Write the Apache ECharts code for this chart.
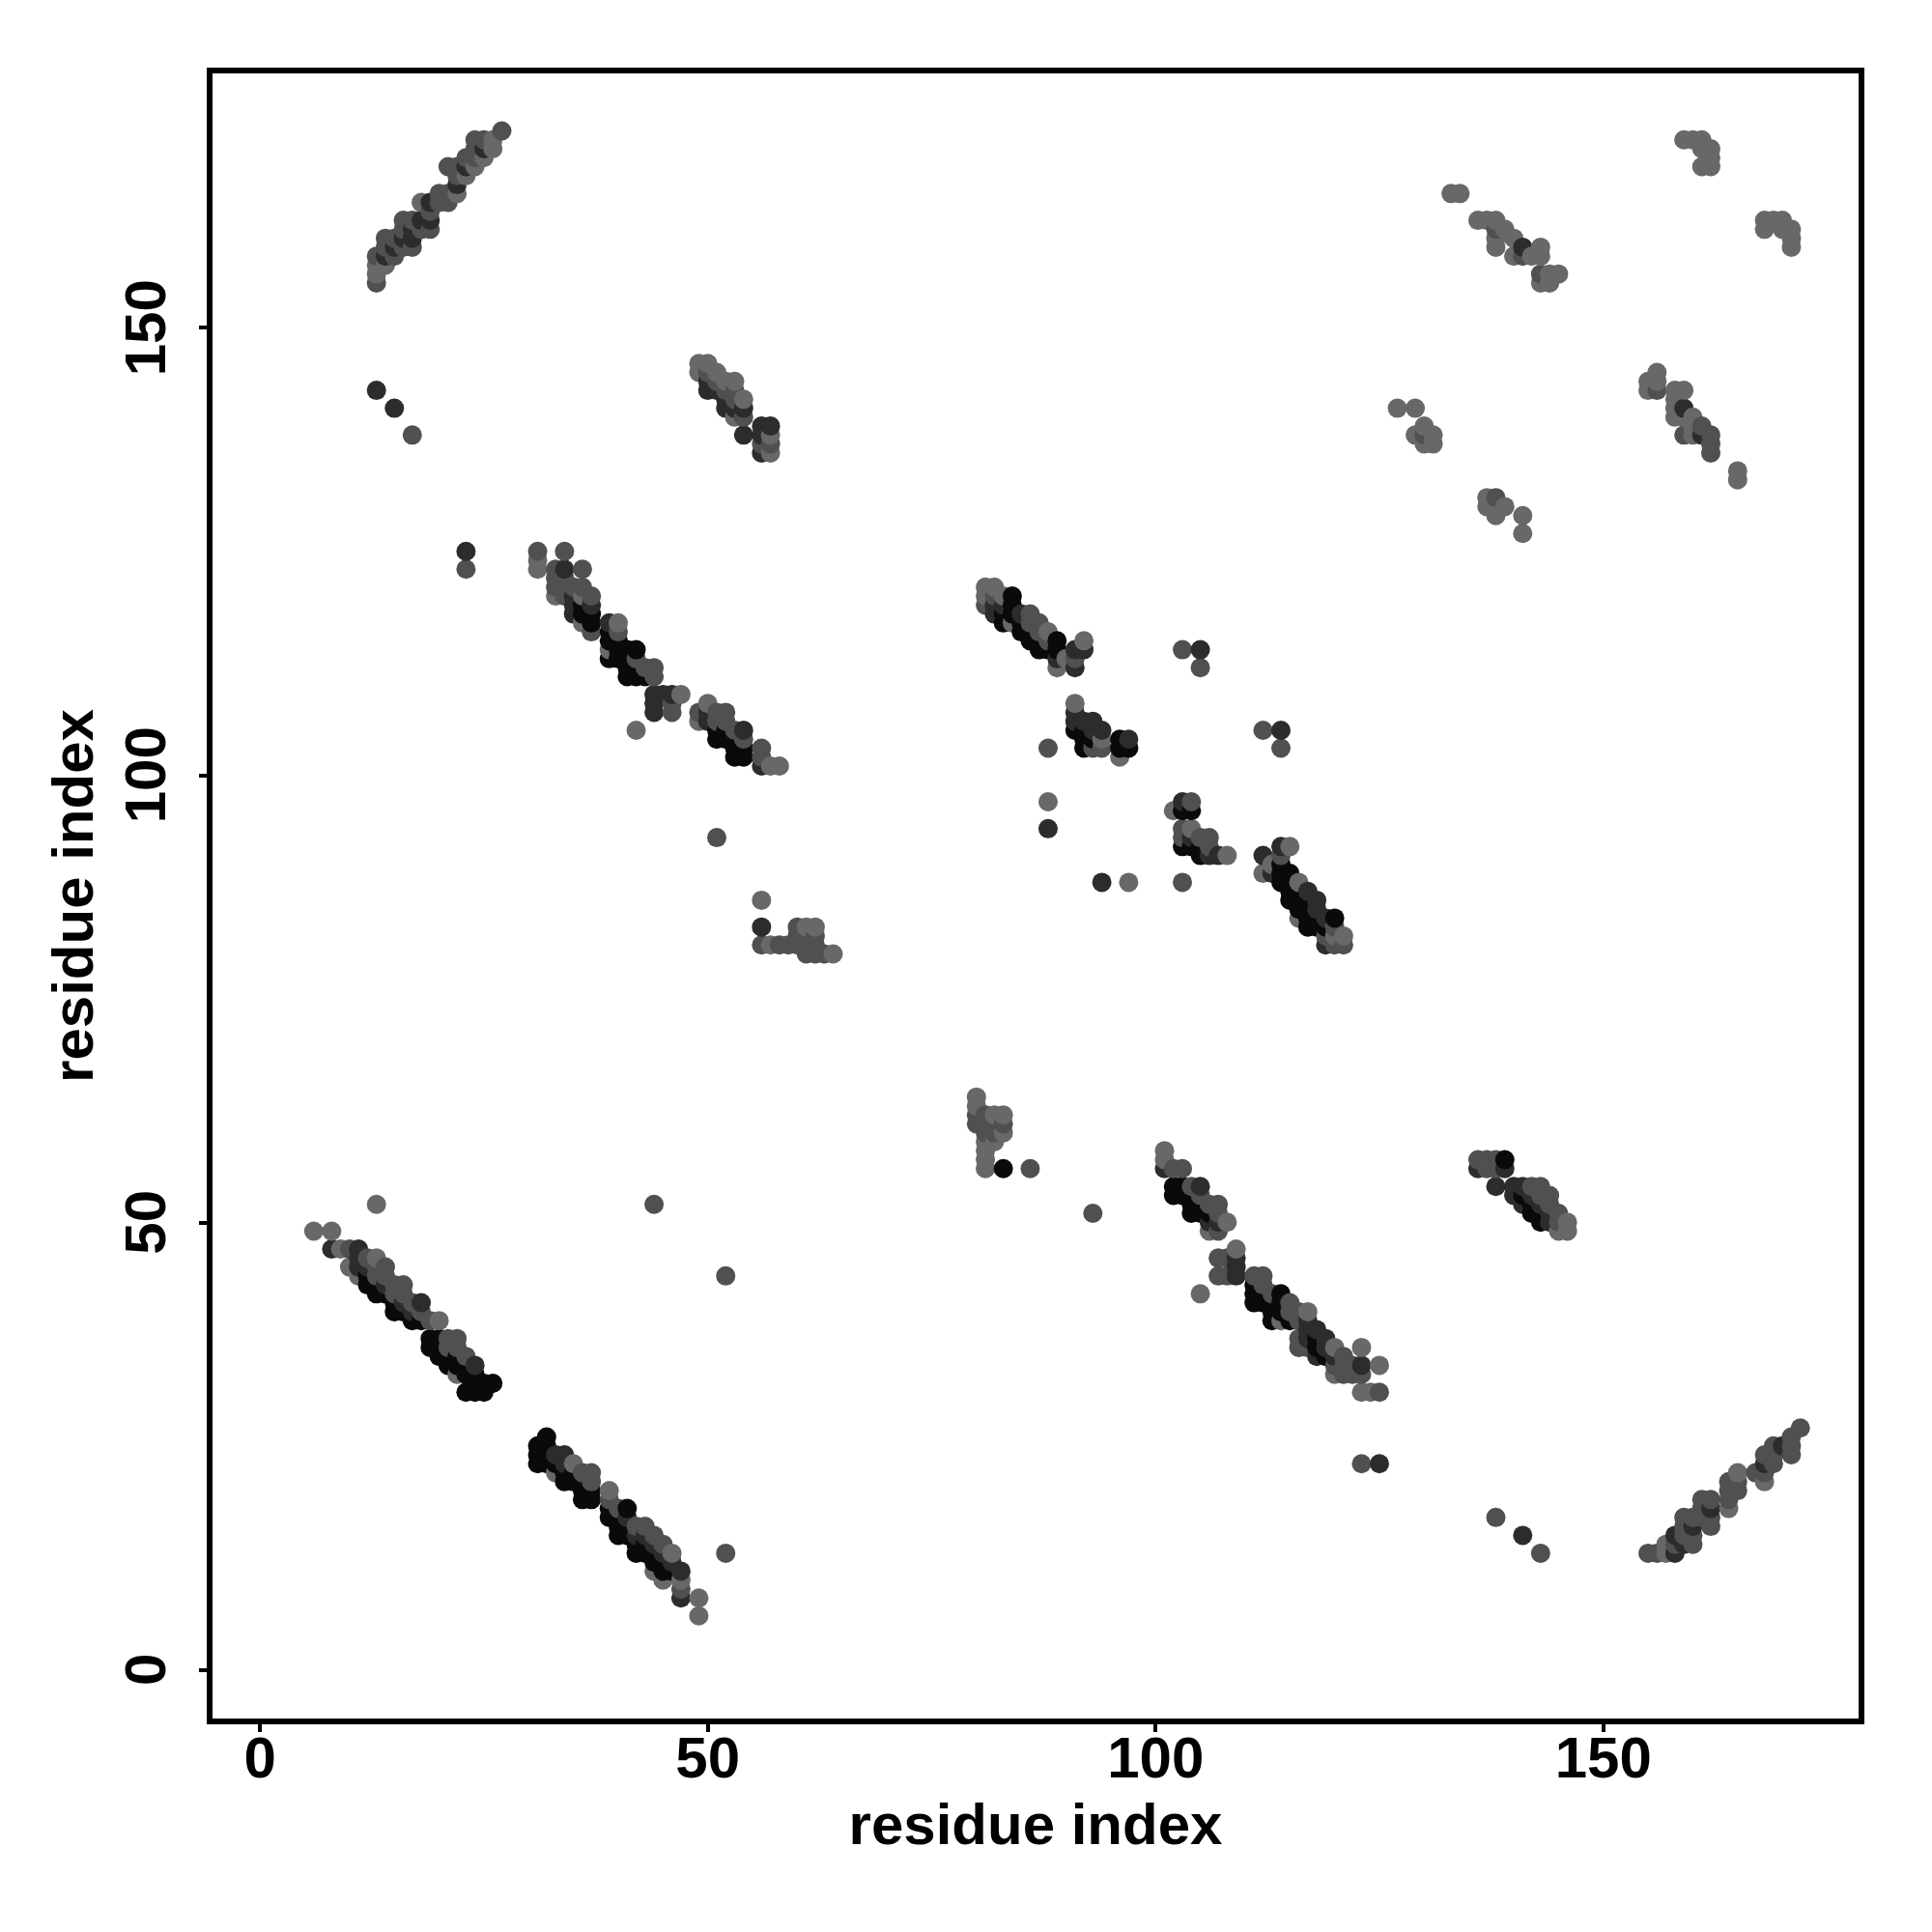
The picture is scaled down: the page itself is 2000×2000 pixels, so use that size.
<!DOCTYPE html>
<html><head><meta charset="utf-8">
<style>html,body{margin:0;padding:0;background:#fff}#c{width:2000px;height:2000px}</style>
<script src="https://cdn.jsdelivr.net/npm/echarts@6/dist/echarts.min.js"></script>
</head><body><div id="c"></div>
<script>
// Contacts: [residue x, residue y, darkness level 1..4]
const helixLowerLeft = [[6,49,1],[8,49,1],[8,47,3],[9,47,1],[10,47,2],[10,45,1],[11,47,3],[11,46,3],[11,45,3],[11,44,1],[12,46,2],[12,45,3],[12,44,4],[12,43,4],[13,46,1],[13,45,2],[13,44,2],[13,43,4],[13,42,4],[14,45,2],[14,44,2],[14,43,3],[14,42,4],[15,43,2],[15,42,2],[15,41,4],[15,40,4],[16,43,2],[16,42,2],[16,41,3],[16,40,4],[17,41,2],[17,40,3],[17,39,4],[18,41,3],[18,40,2],[18,39,4],[19,39,2],[19,37,4],[19,36,4],[20,39,1],[20,37,4],[20,36,4],[20,35,4],[21,37,2],[21,36,2],[21,35,4],[21,34,4],[22,37,2],[22,36,2],[22,35,4],[22,34,4],[22,33,1],[23,35,2],[23,34,4],[23,33,4],[23,31,4],[24,34,3],[24,33,4],[24,32,4],[24,31,4],[25,32,4],[25,31,4],[26,32,4],[13,52,1],[44,52,2],[52,44,2]];
const helixLowerMid = [[31,25,4],[31,24,4],[31,23,4],[32,26,4],[32,25,4],[32,24,4],[32,23,4],[33,24,3],[33,23,4],[33,22,1],[34,24,3],[34,23,3],[34,22,4],[34,21,4],[35,23,1],[35,22,4],[35,21,4],[36,22,2],[36,21,4],[36,20,4],[36,19,4],[37,22,2],[37,21,2],[37,20,4],[37,19,4],[39,20,1],[39,19,2],[39,18,4],[39,17,4],[40,18,2],[40,17,4],[40,16,4],[40,15,4],[41,18,4],[41,17,3],[41,16,4],[41,15,4],[42,16,2],[42,15,3],[42,14,4],[42,13,4],[43,16,2],[43,15,3],[43,14,4],[43,13,4],[44,15,2],[44,14,3],[44,13,4],[44,12,4],[44,11,1],[45,14,2],[45,13,3],[45,12,4],[45,11,4],[45,10,1],[46,13,1],[46,12,3],[46,11,4],[47,11,3],[47,10,1],[47,9,2],[47,8,3],[49,8,1],[49,6,1],[52,13,2]];
const strandTopLeft = [[13,158,2],[13,157,1],[13,156,1],[13,155,2],[14,160,2],[14,159,2],[14,158,3],[14,157,1],[15,160,2],[15,159,3],[15,158,2],[16,162,2],[16,161,2],[16,160,3],[16,159,2],[17,162,2],[17,161,3],[17,160,3],[17,159,2],[18,164,1],[18,162,3],[18,161,2],[19,164,3],[19,163,2],[19,162,3],[19,161,2],[20,165,2],[20,164,2],[21,168,2],[21,165,2],[21,164,2],[22,168,2],[22,167,2],[22,166,3],[22,165,1],[23,169,2],[23,168,3],[23,167,1],[24,171,2],[24,170,2],[24,169,2],[24,168,1],[25,171,2],[25,170,3],[25,169,1],[26,171,1],[26,170,1],[27,172,2],[13,143,3],[15,141,3],[17,138,2],[23,125,3],[23,123,2]];
const helixUpperLeft = [[31,125,2],[31,124,1],[31,123,1],[33,123,2],[33,122,2],[33,121,2],[33,120,1],[34,125,2],[34,123,3],[34,122,2],[34,121,2],[34,120,2],[35,121,2],[35,120,3],[35,119,3],[35,118,3],[36,123,2],[36,121,2],[36,120,1],[36,119,4],[36,118,4],[36,117,1],[37,120,2],[37,119,3],[37,118,4],[37,117,4],[37,116,2],[39,117,3],[39,116,4],[39,115,4],[39,114,1],[39,113,4],[40,117,1],[40,116,2],[40,115,4],[40,114,4],[40,113,4],[41,114,4],[41,113,4],[41,112,4],[41,111,4],[42,114,4],[42,113,2],[42,112,4],[42,111,4],[43,112,2],[43,111,4],[44,112,2],[44,111,2],[44,109,3],[44,108,3],[44,107,3],[45,109,3],[46,109,3],[46,108,2],[46,107,2],[47,109,1],[42,105,1],[49,107,2],[49,106,1],[50,108,1],[50,107,3],[50,106,3],[51,107,2],[51,106,2],[51,105,4],[51,104,4],[52,107,2],[52,106,2],[52,105,4],[52,104,4],[53,105,2],[53,104,4],[53,103,4],[53,102,4],[54,105,3],[54,104,2],[54,103,4],[54,102,4],[56,103,2],[56,102,2],[56,101,3],[57,101,1],[58,101,1],[51,93,2]];
const clusterCentreLeft = [[56,86,1],[56,83,3],[56,81,2],[57,81,1],[58,81,2],[59,81,2],[60,83,2],[60,82,2],[60,81,2],[61,83,1],[61,82,2],[61,81,2],[61,80,2],[62,83,1],[62,82,2],[62,81,2],[62,80,2],[63,80,2],[64,80,1]];
const strandUpperCentre = [[49,146,1],[49,145,1],[50,146,1],[50,145,2],[50,144,3],[50,143,3],[51,145,1],[51,144,2],[51,143,3],[52,144,1],[52,143,2],[52,142,3],[52,141,3],[53,144,1],[53,143,2],[53,142,2],[53,141,3],[53,140,1],[54,142,1],[54,141,3],[54,140,2],[54,138,3],[56,139,3],[56,138,3],[56,137,2],[56,136,3],[57,139,3],[57,138,1],[57,137,2],[57,136,1]];
const helixCentre = [[81,121,1],[81,120,1],[81,119,2],[82,121,1],[82,120,2],[82,119,3],[82,118,3],[83,120,1],[83,119,3],[83,118,4],[83,117,4],[84,120,4],[84,119,4],[84,118,4],[84,117,1],[85,118,3],[85,117,4],[85,116,4],[86,118,2],[86,117,2],[86,116,4],[86,115,4],[87,117,2],[87,116,2],[87,115,4],[87,114,4],[88,116,1],[88,115,2],[88,114,4],[89,115,4],[89,114,4],[89,113,3],[89,112,1],[90,113,1],[91,114,3],[91,113,2],[91,112,3],[92,115,1],[92,114,3],[91,108,1],[91,107,3],[91,106,3],[91,105,4],[92,106,3],[92,105,4],[92,104,4],[92,103,4],[93,106,3],[93,105,3],[93,104,4],[93,103,2],[94,105,3],[94,104,1],[94,103,2],[96,104,4],[96,103,4],[96,102,1],[97,104,3],[97,103,4],[88,103,2],[88,97,1],[88,94,3],[94,88,3],[97,88,1],[103,88,2],[103,114,2],[105,114,3],[105,112,2],[112,105,2],[114,105,3],[114,103,2]];
const helixCentreRight = [[102,96,1],[103,97,3],[103,96,4],[103,94,2],[103,93,2],[103,92,4],[104,97,2],[104,96,4],[104,94,1],[104,93,3],[104,92,4],[105,93,2],[105,92,4],[105,91,4],[106,93,2],[106,92,2],[106,91,3],[107,91,3],[108,91,1],[112,91,3],[112,89,1],[113,90,1],[113,89,3],[114,92,3],[114,91,2],[114,90,4],[114,89,4],[114,88,4],[115,92,1],[115,89,4],[115,88,4],[115,87,4],[115,86,4],[116,88,1],[116,87,4],[116,86,4],[116,85,4],[116,84,1],[117,87,3],[117,86,4],[117,85,4],[117,84,4],[117,83,4],[118,86,3],[118,85,3],[118,84,4],[118,83,4],[119,84,3],[119,83,4],[119,82,2],[119,81,3],[120,84,4],[120,83,2],[120,82,1],[120,81,2],[121,82,1],[121,81,2]];
const clusterLowerCentre = [[80,64,1],[80,63,1],[80,62,2],[80,61,2],[81,62,2],[81,61,2],[81,60,2],[81,59,1],[81,58,1],[81,57,1],[81,56,1],[82,62,1],[82,61,2],[82,60,2],[82,59,1],[83,62,1],[83,61,2],[83,60,1],[83,56,4],[86,56,2],[93,51,2]];
const helixLowerRight = [[101,58,1],[101,57,1],[101,56,3],[102,56,2],[103,56,2],[102,54,4],[102,53,4],[103,54,4],[103,53,4],[104,54,2],[104,53,4],[104,52,4],[104,51,4],[105,54,3],[105,53,2],[105,52,4],[105,51,4],[106,52,2],[106,51,4],[106,50,3],[106,49,1],[107,52,2],[107,51,2],[107,50,3],[107,49,2],[108,50,1],[109,47,1],[109,46,3],[109,45,3],[109,44,3],[107,46,2],[108,46,2],[107,44,2],[108,44,2],[105,42,1],[111,44,2],[111,43,4],[111,42,4],[111,41,4],[112,44,2],[112,43,2],[112,42,4],[112,41,4],[113,42,2],[113,41,4],[113,40,4],[113,39,4],[114,42,4],[114,41,4],[114,40,4],[114,39,1],[115,41,2],[115,40,2],[115,39,4],[116,40,2],[116,39,2],[116,37,2],[116,36,2],[117,40,1],[117,39,3],[117,38,3],[117,37,3],[117,36,2],[118,38,3],[118,37,4],[118,36,4],[118,35,3],[119,37,3],[119,36,3],[119,35,4],[120,36,1],[120,35,3],[120,34,2],[120,33,1],[121,35,2],[121,34,2],[121,33,2],[122,34,2],[122,33,2],[123,36,1],[123,34,3],[123,33,2],[123,31,1],[124,31,1],[125,34,1],[125,31,2],[123,23,2],[125,23,3]];
const strandLowerRight = [[136,57,2],[136,56,3],[137,57,2],[137,56,2],[138,57,2],[138,56,2],[138,54,3],[139,57,4],[139,56,3],[140,54,3],[140,53,3],[141,54,3],[141,53,4],[141,52,3],[142,54,2],[142,53,3],[142,52,4],[142,51,4],[143,54,2],[143,53,2],[143,52,3],[143,51,4],[143,50,4],[144,53,2],[144,52,2],[144,51,3],[144,50,3],[145,51,2],[145,50,2],[145,49,1],[146,50,1],[146,49,1]];
const strandBottomRight = [[138,17,2],[141,15,3],[143,13,2],[155,13,2],[156,13,2],[157,14,1],[157,13,1],[158,15,3],[158,14,2],[158,13,3],[159,17,2],[159,16,2],[159,15,2],[159,14,3],[160,17,2],[160,16,3],[160,15,2],[160,14,2],[161,19,2],[161,18,2],[161,17,2],[162,19,2],[162,18,3],[162,17,2],[162,16,2],[164,21,2],[164,20,2],[164,19,2],[164,18,1],[165,22,1],[165,21,2],[165,20,2],[167,22,2],[168,24,2],[168,23,3],[168,22,2],[168,21,1],[169,25,2],[169,24,2],[169,23,2],[170,25,3],[171,26,2],[171,25,2],[171,24,2],[172,27,2]];
const strandTopRight = [[159,171,1],[160,171,1],[161,171,1],[161,170,1],[162,170,1],[162,169,1],[161,168,1],[162,168,1],[168,162,1],[169,162,1],[170,162,1],[168,161,1],[170,161,1],[171,161,1],[171,160,1],[171,159,1],[156,145,1],[155,144,1],[156,144,1],[155,143,1],[156,143,2],[158,143,1],[159,143,1],[158,142,1],[158,141,1],[159,141,3],[158,140,1],[159,140,1],[160,140,1],[160,139,1],[161,139,2],[159,138,2],[160,138,1],[161,138,3],[162,138,2],[162,137,2],[162,136,2],[165,134,1],[165,133,1],[133,165,1],[134,165,1],[136,162,1],[137,162,1],[138,162,1],[138,161,2],[139,161,1],[138,160,1],[138,159,1],[140,160,1],[140,158,1],[141,159,3],[141,158,2],[142,158,1],[143,159,1],[143,158,1],[143,156,2],[143,155,1],[144,156,1],[144,155,1],[145,156,1],[127,141,1],[129,141,1],[129,138,1],[130,139,1],[130,138,2],[130,137,1],[131,138,1],[131,137,1],[137,131,1],[138,131,2],[138,130,1],[139,130,1],[137,130,1],[138,129,1],[141,129,1],[141,127,1]];

const tickValues = [0, 50, 100, 150];
const axisTitle = 'residue index';
const greys = {1:'#686868', 2:'#505050', 3:'#2c2c2c', 4:'#0a0a0a'};

const contacts = [].concat(helixLowerLeft, helixLowerMid, strandTopLeft, helixUpperLeft, clusterCentreLeft, strandUpperCentre, helixCentre, helixCentreRight, clusterLowerCentre, helixLowerRight, strandLowerRight, strandBottomRight, strandTopRight)
  .sort((a, b) => a[0] - b[0] || a[1] - b[1]);

const font = {fontFamily: '"Liberation Sans", Arial, sans-serif', fontWeight: 'bold', fontSize: 60, color: '#000'};
function axis(extra) {
  return Object.assign({
    type: 'value', name: axisTitle, nameLocation: 'middle', nameMoveOverlap: false,
    nameTextStyle: font, splitLine: {show: false}, axisLine: {show: false, onZero: false},
    axisTick: {show: true, length: 11, customValues: tickValues, lineStyle: {color: '#000', width: 4}}
  }, extra);
}
const chart = echarts.init(document.getElementById('c'), null, {renderer: 'canvas'});
chart.setOption({
  animation: false, backgroundColor: '#fff',
  grid: {left: 217, top: 73, width: 1710, height: 1709, show: true, borderColor: '#000', borderWidth: 6, backgroundColor: 'transparent'},
  xAxis: axis({min: -5.63, max: 178.83, nameGap: 80, axisLabel: Object.assign({}, font, {customValues: tickValues, margin: 11, formatter: v => String(v)})}),
  yAxis: axis({min: -5.8, max: 178.75, nameGap: 108, axisLabel: Object.assign({}, font, {customValues: tickValues, margin: 33, rotate: 90, formatter: v => String(v)})}),
  series: [{
    type: 'scatter', symbol: 'circle', symbolSize: 20, clip: false, z: 5,
    data: contacts,
    itemStyle: {opacity: 1, color: p => greys[p.value[2]]},
    emphasis: {disabled: true}
  }]
});
</script></body></html>
